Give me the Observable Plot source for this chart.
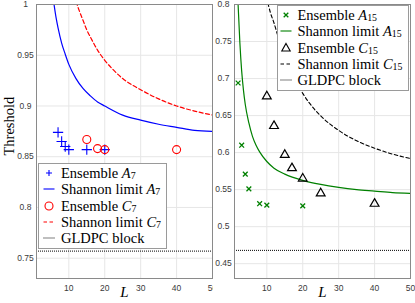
<!DOCTYPE html>
<html><head><meta charset="utf-8">
<script src="https://cdn.jsdelivr.net/npm/d3@7"></script>
<script src="https://cdn.jsdelivr.net/npm/@observablehq/plot@0.6"></script>
<style>
html,body{margin:0;padding:0;background:#fff;}
#wrap{position:relative;width:415px;height:303px;overflow:hidden;}
#wrap > svg.panel{position:absolute;top:0;max-width:none !important;}
.legend{position:absolute;background:#fff;border:1px solid #9a9a9a;box-sizing:border-box;font-family:"Liberation Serif","Times New Roman",Times,"DejaVu Serif",serif;font-size:14.5px;color:#000;}
.legend .row{position:absolute;left:0;right:0;height:16px;}
.legend svg{position:absolute;top:0;overflow:visible;}
.legend .lab{position:absolute;top:0;height:16px;line-height:16px;white-space:nowrap;}
.legend i{font-style:italic;}
.legend sub{font-size:68%;vertical-align:baseline;position:relative;top:0.12em;line-height:0;}
</style></head><body>
<div id="wrap"></div>
<script>
// ---------- data ----------
const xTicks = [10, 20, 30, 40, 50];
const yTicksLeft = [0.75, 0.8, 0.85, 0.9, 0.95, 1];
const yTicksRight = [0.45, 0.5, 0.55, 0.6, 0.65, 0.7, 0.75, 0.8];

const ensA7L = [7, 8, 9, 10, 15, 20];
const ensA7T = [0.874, 0.865, 0.860, 0.857, 0.857, 0.857];
const ensC7L = [15, 18, 20, 40];
const ensC7T = [0.867, 0.858, 0.857, 0.857];
const shA7L = [5.8, 6.5, 7, 8, 9, 10, 12, 14, 16, 18, 20, 25, 30, 35, 40, 45, 50];
const shA7T = [1.002, 0.986, 0.977, 0.962, 0.951, 0.941, 0.927, 0.917, 0.910, 0.904, 0.900, 0.891, 0.886, 0.882, 0.879, 0.876, 0.875];
const shC7L = [12, 13, 14, 15, 16, 18, 20, 22, 25, 30, 35, 40, 45, 50];
const shC7T = [1.003, 0.993, 0.984, 0.975, 0.968, 0.955, 0.945, 0.937, 0.927, 0.916, 0.907, 0.900, 0.895, 0.891];
const gldpcLeft = 0.757;

const ensA15L = [2, 3, 4, 5, 8, 10, 20];
const ensA15T = [0.694, 0.610, 0.571, 0.551, 0.531, 0.529, 0.528];
const ensC15L = [10, 12, 15, 17, 20, 25, 40];
const ensC15T = [0.676, 0.636, 0.597, 0.579, 0.565, 0.545, 0.531];
const shA15L = [1.9, 2, 2.5, 3, 3.5, 4, 5, 6, 7, 8, 10, 12, 15, 20, 25, 30, 35, 40, 45, 50];
const shA15T = [0.812, 0.800, 0.748, 0.710, 0.684, 0.665, 0.640, 0.622, 0.610, 0.601, 0.588, 0.579, 0.571, 0.5625, 0.557, 0.553, 0.550, 0.548, 0.546, 0.545];
const shC15L = [10.3, 11, 12, 13, 14, 16, 18, 20, 23, 26, 30, 35, 40, 45, 50];
const shC15T = [0.802, 0.789, 0.775, 0.759, 0.745, 0.719, 0.698, 0.680, 0.660, 0.645, 0.630, 0.616, 0.606, 0.598, 0.592];
const gldpcRight = 0.468;

const legendLeftNames = ["Ensemble", "Shannon limit", "Ensemble", "Shannon limit", "GLDPC block"];
const legendLeftSym = ["A", "A", "C", "C", ""];
const legendLeftSub = ["7", "7", "7", "7", ""];
const legendRightNames = ["Ensemble", "Shannon limit", "Ensemble", "Shannon limit", "GLDPC block"];
const legendRightSym = ["A", "A", "C", "C", ""];
const legendRightSub = ["15", "15", "15", "15", ""];

const xLabel = "L";
const yLabel = "Threshold";

// ---------- helpers ----------
const zip = (xs, ys) => xs.map((x, i) => ({L: x, T: ys[i]}));
const BLUE = "#0000ff", RED = "#ff0000", GREEN = "#008000", BLACK = "#000000";
const FRAME = "#8a8a8a", GRID = "#e6e6e6";
const SERIF = "'Liberation Serif', 'Times New Roman', Times, 'DejaVu Serif', serif";
const xDomain = [1, 50];
const H = 303;

function panel({width, marginLeft, marginRight, yDomain, yTicks, dataMarks, extra = []}) {
  const svg = Plot.plot({
    width, height: H, marginLeft, marginRight, marginTop: 4, marginBottom: 25,
    style: {fontFamily: "'Liberation Sans', Arial, sans-serif", fontSize: "8.5px", color: "#3a3a3a", background: "white", overflow: "visible"},
    x: {domain: xDomain, label: null},
    y: {domain: yDomain, label: null},
    marks: [
      Plot.gridX(xTicks, {stroke: GRID, strokeOpacity: 1}),
      Plot.gridY(yTicks, {stroke: GRID, strokeOpacity: 1}),
      ...dataMarks,
      Plot.frame({stroke: FRAME}),
      Plot.axisX(xTicks, {tickSize: 0, tickPadding: 6, label: null, tickFormat: d => String(d)}),
      Plot.axisY(yTicks, {tickSize: 0, tickPadding: 11, textAnchor: "middle", label: null, tickFormat: d => String(d)}),
      Plot.text([xLabel], {text: d => d, frameAnchor: "bottom", dy: 18, fontFamily: SERIF, fontStyle: "italic", fontSize: 15, fill: BLACK}),
      ...extra
    ]
  });
  svg.style.width = width + "px";
  svg.style.height = H + "px";
  return svg;
}

const curve = "monotone-x";

const left = panel({
  width: 213, marginLeft: 36, marginRight: 1,
  yDomain: [0.73, 1], yTicks: yTicksLeft,
  dataMarks: [
    Plot.ruleY([gldpcLeft], {stroke: BLACK, strokeDasharray: "1,1", strokeWidth: 1}),
    Plot.line(zip(shA7L, shA7T), {x: "L", y: "T", stroke: BLUE, strokeWidth: 1.2, curve, clip: true}),
    Plot.line(zip(shC7L, shC7T), {x: "L", y: "T", stroke: RED, strokeWidth: 1.2, strokeDasharray: "4,2.5", curve, clip: true}),
    Plot.dot(zip(ensA7L, ensA7T), {x: "L", y: "T", symbol: "plus", r: 3.4, stroke: BLUE, strokeWidth: 1.1}),
    Plot.dot(zip(ensC7L, ensC7T), {x: "L", y: "T", symbol: "circle", r: 4, stroke: RED, fill: "none", strokeWidth: 1.1})
  ],
  extra: [
    Plot.text([yLabel], {text: d => d, frameAnchor: "left", dx: -27, dy: 14, rotate: -90, fontFamily: SERIF, fontSize: 14.5, fill: BLACK})
  ]
});

const right = panel({
  width: 202, marginLeft: 21, marginRight: 5,
  yDomain: [0.43, 0.8], yTicks: yTicksRight,
  dataMarks: [
    Plot.ruleY([gldpcRight], {stroke: BLACK, strokeDasharray: "1,1", strokeWidth: 1}),
    Plot.line(zip(shA15L, shA15T), {x: "L", y: "T", stroke: GREEN, strokeWidth: 1.2, curve, clip: true}),
    Plot.line(zip(shC15L, shC15T), {x: "L", y: "T", stroke: BLACK, strokeWidth: 1.1, strokeDasharray: "3.5,2.5", curve, clip: true}),
    Plot.dot(zip(ensA15L, ensA15T), {x: "L", y: "T", symbol: "times", r: 2.3, stroke: GREEN, strokeWidth: 1.3}),
    Plot.dot(zip(ensC15L, ensC15T), {x: "L", y: "T", symbol: "triangle2", r: 4.2, stroke: BLACK, fill: "none", strokeWidth: 1.2})
  ]
});

const wrap = document.getElementById("wrap");
left.classList.add("panel"); left.style.left = "0px";
right.classList.add("panel"); right.style.left = "213px";
wrap.appendChild(left);
wrap.appendChild(right);

// ---------- legends ----------
function symbolSvg(kind, color, cx) {
  const ns = "http://www.w3.org/2000/svg";
  const svg = document.createElementNS(ns, "svg");
  svg.setAttribute("width", 20); svg.setAttribute("height", 16);
  svg.style.left = (cx - 10) + "px";
  const g = document.createElementNS(ns, "g");
  g.setAttribute("transform", "translate(10,8)");
  g.setAttribute("fill", "none"); g.setAttribute("stroke", color);
  let d = "";
  if (kind === "plus") d = "M-3,0H3M0,-3V3";
  else if (kind === "times") d = "M-2.3,-2.3L2.3,2.3M-2.3,2.3L2.3,-2.3";
  else if (kind === "circle") { const c = document.createElementNS(ns, "circle"); c.setAttribute("r", 4); c.setAttribute("stroke-width", 1.1); g.appendChild(c); }
  else if (kind === "triangle") d = "M0,-4.5L4.2,3L-4.2,3Z";
  else d = "M-5.5,0H5.5";
  if (d) {
    const p = document.createElementNS(ns, "path");
    p.setAttribute("d", d);
    p.setAttribute("stroke-width", kind === "times" ? 1.3 : 1.1);
    if (kind === "dash") p.setAttribute("stroke-dasharray", "3.5,2.5");
    if (kind === "dot") p.setAttribute("stroke-dasharray", "1,1");
    g.appendChild(p);
  }
  svg.appendChild(g);
  return svg;
}

function legend({left, top, width, height, names, syms, subs, kinds, colors, symX, textX}) {
  const box = document.createElement("div");
  box.className = "legend";
  Object.assign(box.style, {left: left + "px", top: top + "px", width: width + "px", height: height + "px"});
  names.forEach((n, i) => {
    const row = document.createElement("div");
    row.className = "row";
    row.style.top = (0.7 + i * 16.4) + "px";
    row.appendChild(symbolSvg(kinds[i], colors[i], symX));
    const lab = document.createElement("span");
    lab.className = "lab";
    lab.style.left = textX + "px";
    lab.innerHTML = n + (syms[i] ? "&nbsp;<i>" + syms[i] + "</i><sub>" + subs[i] + "</sub>" : "");
    row.appendChild(lab);
    box.appendChild(row);
  });
  wrap.appendChild(box);
}

legend({left: 38, top: 163, width: 129, height: 86,
  names: legendLeftNames, syms: legendLeftSym, subs: legendLeftSub,
  kinds: ["plus", "solid", "circle", "dash", "dot"], colors: [BLUE, BLUE, RED, RED, BLACK],
  symX: 10, textX: 22});
legend({left: 277, top: 5, width: 132, height: 86,
  names: legendRightNames, syms: legendRightSym, subs: legendRightSub,
  kinds: ["times", "solid", "triangle", "dash", "dot"], colors: [GREEN, GREEN, BLACK, BLACK, BLACK],
  symX: 8, textX: 19.5});
</script>
</body></html>
